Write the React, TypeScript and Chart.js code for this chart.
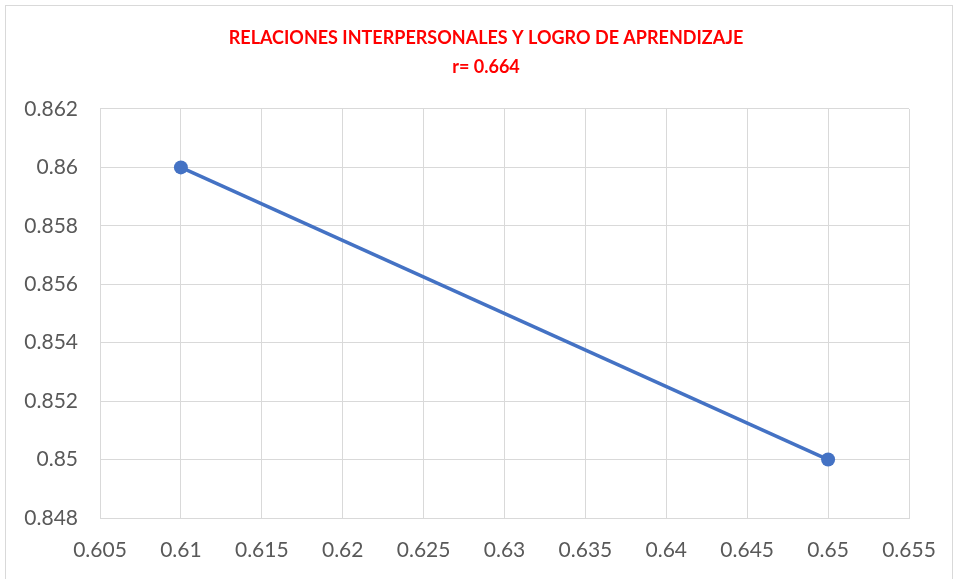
import React, { useEffect, useRef } from "react";
import { Chart, registerables } from "chart.js";

Chart.register(...registerables);

const titleLines = ["RELACIONES INTERPERSONALES Y LOGRO DE APRENDIZAJE", "r= 0.664"];
const xValues = [0.61, 0.65];
const yValues = [0.86, 0.85];
const xMin = 0.605;
const xMax = 0.655;
const xStep = 0.005;
const yMin = 0.848;
const yMax = 0.862;
const yStep = 0.002;

export default function App() {
  const ref = useRef<HTMLCanvasElement | null>(null);

  useEffect(() => {
    document.body.style.margin = "0";
    const canvas = ref.current;
    if (!canvas) return;
    const fmt = (v: number) => String(parseFloat(v.toFixed(4)));
    const chart = new Chart(canvas, {
      type: "scatter",
      data: {
        datasets: [
          {
            data: xValues.map((x, i) => ({ x, y: yValues[i] })),
            showLine: true,
            borderColor: "#4472c4",
            backgroundColor: "#4472c4",
            borderWidth: 3.5,
            pointRadius: 7,
            pointHoverRadius: 7,
            pointBorderWidth: 0,
          },
        ],
      },
      options: {
        responsive: false,
        animation: false,
        layout: { padding: { left: 15, right: 0, top: 0, bottom: 0 } },
        plugins: {
          legend: { display: false },
          tooltip: { enabled: false },
          title: {
            display: true,
            text: titleLines,
            color: "#ff0000",
            font: { family: "Lato", size: 18, weight: "bold", lineHeight: 1.61 },
            padding: { top: 23.5, bottom: 27.5 },
          },
        },
        scales: {
          x: {
            type: "linear",
            min: xMin,
            max: xMax,
            afterFit: (s: any) => {
              s.height = 61;
            },
            ticks: {
              stepSize: xStep,
              color: "#595959",
              font: { family: "Lato", size: 21 },
              padding: 20,
              callback: (v: any) => fmt(Number(v)),
              maxRotation: 0,
              autoSkip: false,
            },
            grid: { color: "#d9d9d9", lineWidth: 1, drawTicks: false },
            border: { color: "#d9d9d9" },
          },
          y: {
            type: "linear",
            min: yMin,
            max: yMax,
            afterFit: (s: any) => {
              s.width = 85;
            },
            ticks: {
              stepSize: yStep,
              color: "#595959",
              font: { family: "Lato", size: 21 },
              padding: 22,
              callback: (v: any) => fmt(Number(v)),
              autoSkip: false,
            },
            grid: { color: "#d9d9d9", lineWidth: 1, drawTicks: false },
            border: { color: "#d9d9d9" },
          },
          yRight: {
            type: "linear",
            position: "right",
            min: yMin,
            max: yMax,
            afterFit: (s: any) => {
              s.width = 48;
            },
            ticks: { display: false },
            grid: { display: false, drawTicks: false },
            border: { display: false },
          },
        },
      },
    });
    return () => chart.destroy();
  }, []);

  return (
    <div style={{ position: "relative", width: 957, height: 579, background: "#fff", overflow: "hidden" }}>
      <canvas ref={ref} width={957} height={579} style={{ position: "absolute", left: 0, top: 0 }} />
      <div
        style={{
          position: "absolute",
          left: 5,
          top: 5,
          width: 946,
          height: 590,
          border: "1px solid #d9d9d9",
          pointerEvents: "none",
        }}
      />
    </div>
  );
}
